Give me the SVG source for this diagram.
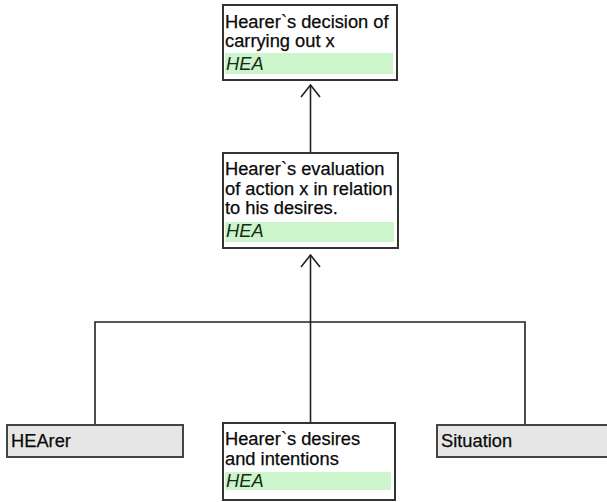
<svg xmlns="http://www.w3.org/2000/svg" width="607" height="502" viewBox="0 0 607 502">
<style>
.box{fill:#ffffff;stroke:#333333;stroke-width:2}
.gbox{fill:#e6e6e6;stroke:#444444;stroke-width:2}
.band{fill:#ccf5cc}
.t{font-family:"Liberation Sans",Arial,sans-serif;font-size:18.3px;fill:#0a0a0a;stroke:#0a0a0a;stroke-width:0.25}
.hea{font-family:"Liberation Sans",Arial,sans-serif;font-size:18.3px;font-style:italic;fill:#1a2a1a}
.conn{fill:none;stroke:#222222;stroke-width:1.6}
</style>
<defs>
<marker id="arr" viewBox="0 0 14 22" refX="13" refY="11" markerWidth="14" markerHeight="22" markerUnits="userSpaceOnUse" orient="auto">
<path d="M1,1.5 L13,11 L1,20.5" fill="none" stroke="#222222" stroke-width="1.6"/>
</marker>
</defs>
<rect width="607" height="502" fill="#ffffff"/>
<g id="connectors">
<line class="conn" x1="310.5" y1="153" x2="310.5" y2="85" marker-end="url(#arr)"/>
<line class="conn" x1="310.5" y1="322" x2="310.5" y2="255" marker-end="url(#arr)"/>
<polyline class="conn" points="95,425 95,322 525,322 525,425"/>
<line class="conn" x1="310.5" y1="322" x2="310.5" y2="423"/>
</g>
<g id="n_decision">
<rect class="box" x="223" y="5" width="174" height="75"/>
<rect class="band" x="225" y="53" width="168" height="21"/>
<text class="t" x="225" y="28">Hearer`s decision of</text>
<text class="t" x="225" y="47">carrying out x</text>
<text class="hea" x="226" y="70">HEA</text>
</g>
<g id="n_evaluation">
<rect class="box" x="223" y="153" width="175" height="95"/>
<rect class="band" x="225" y="222" width="169" height="20"/>
<text class="t" x="225" y="175">Hearer`s evaluation</text>
<text class="t" x="225" y="195">of action x in relation</text>
<text class="t" x="225" y="214">to his desires.</text>
<text class="hea" x="226" y="237">HEA</text>
</g>
<g id="n_hearer">
<rect class="gbox" x="7" y="425" width="176" height="32"/>
<text class="t" x="11" y="447">HEArer</text>
</g>
<g id="n_desires">
<rect class="box" x="223" y="423" width="172" height="77"/>
<rect class="band" x="225" y="472" width="166" height="18"/>
<text class="t" x="225" y="445">Hearer`s desires</text>
<text class="t" x="225" y="465">and intentions</text>
<text class="hea" x="226" y="487">HEA</text>
</g>
<g id="n_situation">
<rect class="gbox" x="437" y="425" width="180" height="32"/>
<text class="t" x="441" y="447">Situation</text>
</g>
</svg>
